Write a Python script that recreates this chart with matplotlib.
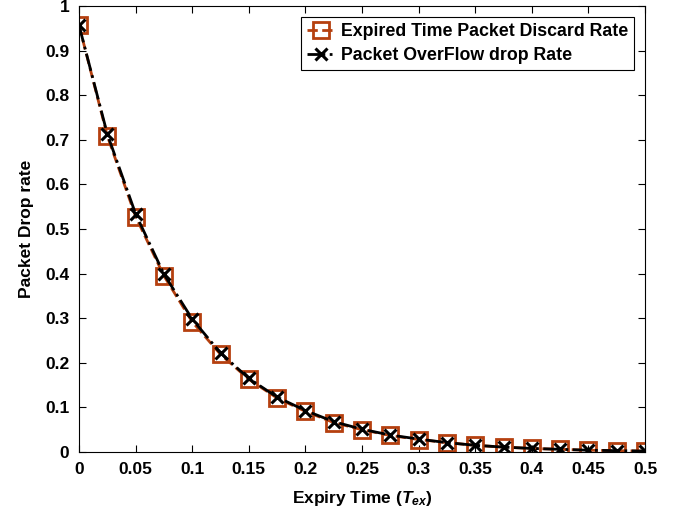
import numpy as np
import matplotlib.pyplot as plt

plt.rcParams['font.family'] = ['Liberation Sans', 'DejaVu Sans']
plt.rcParams['font.weight'] = 'bold'
plt.rcParams['mathtext.fontset'] = 'custom'
plt.rcParams['mathtext.it'] = 'Liberation Sans:italic:bold'
plt.rcParams['mathtext.rm'] = 'Liberation Sans:bold'

# expiry time values
expiry = [0.0, 0.025, 0.05, 0.075, 0.1, 0.125, 0.15, 0.175, 0.2, 0.225, 0.25,
          0.275, 0.3, 0.325, 0.35, 0.375, 0.4, 0.425, 0.45, 0.475, 0.5]
discard_rate = [0.957, 0.709, 0.528, 0.395, 0.292, 0.219, 0.163, 0.121, 0.091,
                0.066, 0.050, 0.037, 0.028, 0.021, 0.015, 0.011, 0.008, 0.006,
                0.004, 0.003, 0.002]
overflow_rate = [0.957, 0.713, 0.534, 0.399, 0.298, 0.222, 0.165, 0.123, 0.093,
                 0.068, 0.051, 0.038, 0.029, 0.021, 0.015, 0.011, 0.008, 0.006,
                 0.004, 0.003, 0.002]

fig = plt.figure(figsize=(6.82, 5.16), dpi=100)
ax = fig.add_axes([79 / 682, 1 - 452 / 516, 566 / 682, 446 / 516])

ax.plot(expiry, discard_rate, '--', color='#b5400f', lw=2, marker='s',
        markersize=11, markerfacecolor='none', markeredgecolor='#b5400f',
        markeredgewidth=2, label='Expired Time Packet Discard Rate')
ax.plot(expiry, overflow_rate, '-.', color='black', lw=2, marker='x',
        markersize=9, markeredgewidth=2.2, label='Packet OverFlow drop Rate')

ax.set_xlim(0, 0.5)
ax.set_ylim(0, 1)
ax.set_xticks(np.arange(0, 0.51, 0.05))
ax.set_xticklabels(['0', '0.05', '0.1', '0.15', '0.2', '0.25', '0.3', '0.35',
                    '0.4', '0.45', '0.5'])
ax.set_yticks(np.arange(0, 1.01, 0.1))
ax.set_yticklabels(['0', '0.1', '0.2', '0.3', '0.4', '0.5', '0.6', '0.7',
                    '0.8', '0.9', '1'])
ax.tick_params(direction='in', top=True, right=True, labelsize=12.5, pad=7,
               length=5)

ax.set_xlabel('Expiry Time ($T_{ex}$)', fontsize=12.5, fontweight='bold',
              labelpad=9)
ax.set_ylabel('Packet Drop rate', fontsize=12.5, fontweight='bold',
              labelpad=8)

leg = ax.legend(loc='upper right', fontsize=12.8, fancybox=False, framealpha=1,
                edgecolor='black', handlelength=1.6, handletextpad=0.3,
                borderaxespad=0.6, borderpad=0.35, labelspacing=0.4)
leg.get_frame().set_linewidth(0.8)

fig.savefig('out.png', dpi=100)
